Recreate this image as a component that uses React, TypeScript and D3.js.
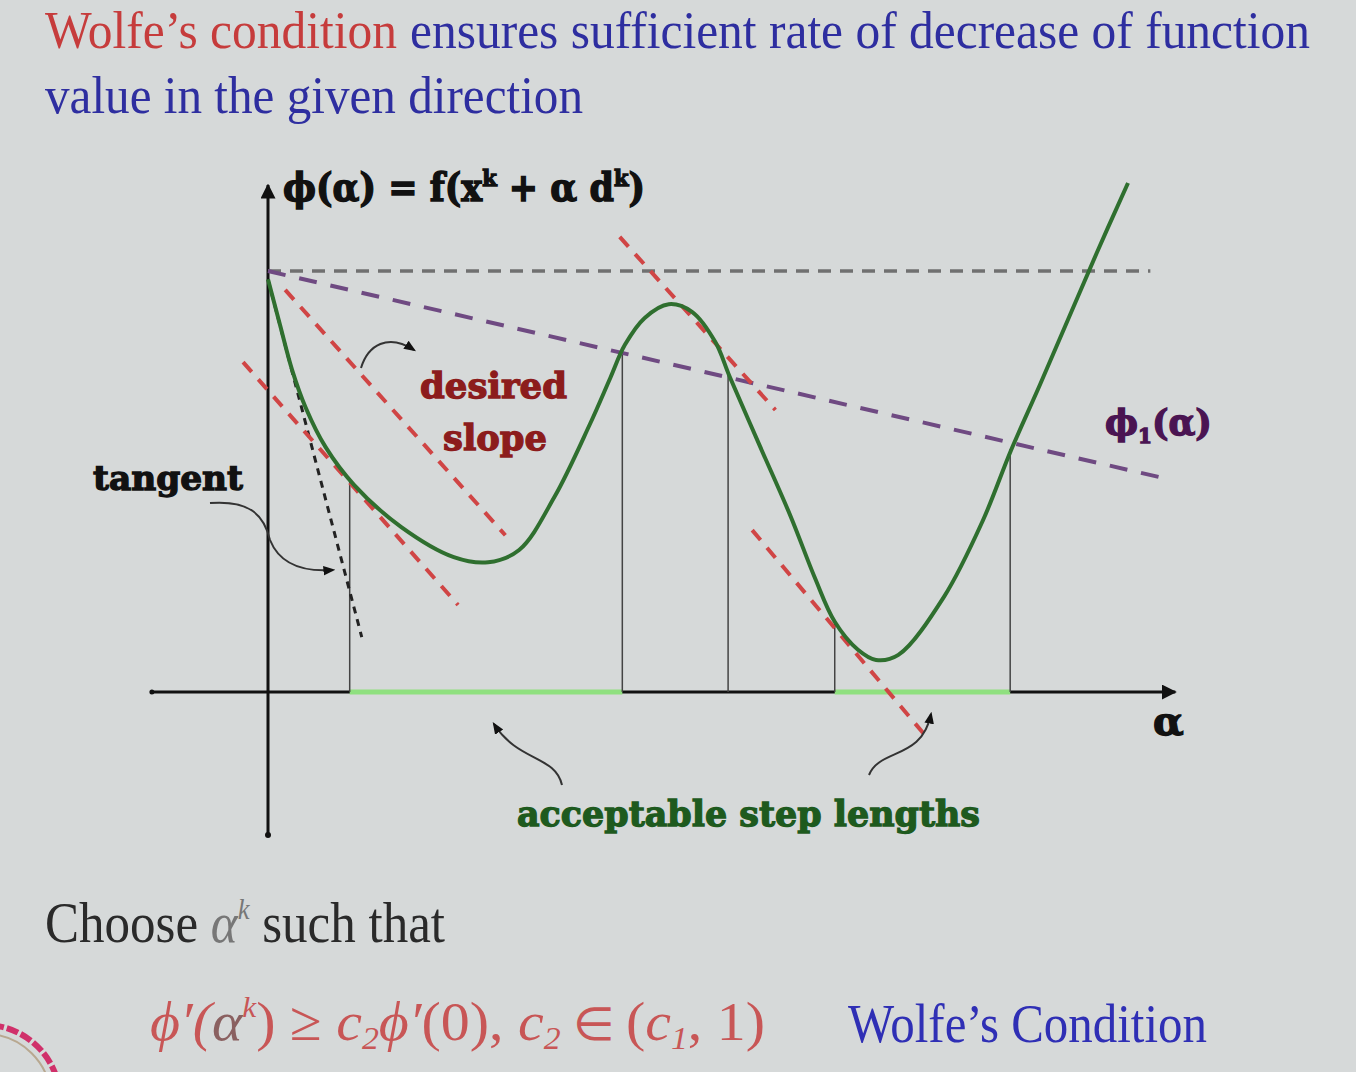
import React from 'react';
import * as d3 from 'd3';

const W = 1356;
const H = 1072;

// phi(alpha) curve samples (data units)
const curveAlpha = [0, 0.14, 0.28, 0.44, 0.67, 1.0, 1.55, 2.16, 2.56, 2.92, 3.33, 3.74, 3.98, 4.15, 4.38, 4.66, 4.93, 5.2, 5.37, 5.72, 6.08, 6.36, 6.59, 6.86, 7.07, 7.33, 7.86, 8.31, 8.64, 8.98, 9.64, 10.0];
const curvePhi = [8.11, 7.21, 6.33, 5.58, 4.81, 4.07, 3.24, 2.65, 2.55, 2.79, 3.83, 5.25, 6.17, 6.82, 7.35, 7.62, 7.47, 6.88, 6.19, 4.83, 3.44, 2.24, 1.38, 0.83, 0.63, 0.73, 1.87, 3.36, 4.75, 6.05, 8.64, 10.0];

// phi(0) level line
const phiZero = 8.27;
const phiZeroEnd = 10.26;

// phi_1(alpha) sufficient-decrease line: [alpha, phi] endpoints
const phi1Start = [0, 8.27];
const phi1End = [10.37, 4.22];

// tangent at 0
const tangentStart = [0, 8.1];
const tangentEnd = [1.09, 1.08];

// red "desired slope" segments: [alpha0, phi0, alpha1, phi1]
const slopeSegments = [
  [-0.29, 6.48, 2.21, 1.71],
  [0.2, 7.9, 2.76, 3.08],
  [4.09, 8.94, 5.9, 5.54],
  [5.63, 3.18, 7.64, -0.85],
];

// vertical drop lines
const dropAlpha = [0.95, 4.12, 5.35, 6.59, 8.63];
const dropPhi = [4.18, 6.72, 6.25, 1.38, 4.77];

// acceptable intervals
const acceptIntervals = [
  [0.95, 4.12],
  [6.59, 8.63],
];

// axes extents
const xAxisRange = [-1.35, 10.55];
const yAxisRange = [-2.81, 9.96];

function Stretch({ x, y, sy, children }: { x: number; y: number; sy: number; children: React.ReactNode }) {
  return <g transform={`translate(${x},${y}) scale(1,${sy})`}>{children}</g>;
}

export default function App() {
  const x = d3.scaleLinear().domain([0, 10]).range([268, 1128]);
  const y = d3.scaleLinear().domain([0, 10]).range([692, 183]);

  const pts: [number, number][] = curveAlpha.map((a, i) => [a, curvePhi[i]]);
  const line = d3
    .line<[number, number]>()
    .x((d) => x(d[0]))
    .y((d) => y(d[1]))
    .curve(d3.curveCatmullRom.alpha(0.5));
  const curvePath = line(pts) || '';

  const serifBold = "'DejaVu Serif', serif";
  const times = "'Liberation Serif', 'Times New Roman', serif";

  const heavy = (color: string) => ({ fill: color, stroke: color, strokeWidth: 1.3, paintOrder: 'stroke' as const });

  return (
    <svg
      width={W}
      height={H}
      style={{ position: 'absolute', left: 0, top: 0, display: 'block' }}
      xmlns="http://www.w3.org/2000/svg"
    >
      <defs>
        <marker id="arrowBlk" viewBox="0 0 10 10" refX="9" refY="5" markerWidth="5" markerHeight="5" orient="auto">
          <path d="M0,0 L10,5 L0,10 z" fill="#111" />
        </marker>
        <marker id="arrowThin" viewBox="0 0 10 10" refX="8" refY="5" markerWidth="6" markerHeight="6" orient="auto">
          <path d="M0,1 L10,5 L0,9 z" fill="#111" />
        </marker>
      </defs>
      <rect x={0} y={0} width={W} height={H} fill="#d6d9d9" />

      {/* Title */}
      <Stretch x={45} y={48} sy={1.15}>
        <text x={0} y={0} fontFamily={times} fontSize={46} fill="#c63c3c" textLength={352} lengthAdjust="spacingAndGlyphs">
          Wolfe’s condition
        </text>
      </Stretch>
      <Stretch x={410} y={48} sy={1.15}>
        <text x={0} y={0} fontFamily={times} fontSize={46} fill="#2e2ea0" textLength={900} lengthAdjust="spacingAndGlyphs">
          ensures sufficient rate of decrease of function
        </text>
      </Stretch>
      <Stretch x={45} y={113} sy={1.15}>
        <text x={0} y={0} fontFamily={times} fontSize={46} fill="#2e2ea0" textLength={538} lengthAdjust="spacingAndGlyphs">
          value in the given direction
        </text>
      </Stretch>

      {/* axes */}
      <line x1={x(xAxisRange[0])} y1={y(0)} x2={x(xAxisRange[1])} y2={y(0)} stroke="#111" strokeWidth={3} markerEnd="url(#arrowBlk)" />
      <line x1={x(0)} y1={y(yAxisRange[0])} x2={x(0)} y2={y(yAxisRange[1])} stroke="#111" strokeWidth={3} markerEnd="url(#arrowBlk)" />
      <circle cx={x(0)} cy={y(yAxisRange[0])} r={3} fill="#111" />
      <circle cx={x(xAxisRange[0])} cy={y(0)} r={2.5} fill="#111" />

      {acceptIntervals.map((iv, i) => (
        <line key={'acc' + i} x1={x(iv[0])} y1={y(0)} x2={x(iv[1])} y2={y(0)} stroke="#8fe07f" strokeWidth={5} />
      ))}

      {/* drop lines */}
      {dropAlpha.map((a, i) => (
        <line key={'drop' + i} x1={x(a)} y1={y(dropPhi[i])} x2={x(a)} y2={y(0)} stroke="#444" strokeWidth={1.5} />
      ))}

      {/* phi(0) horizontal */}
      <line x1={x(0)} y1={y(phiZero)} x2={x(phiZeroEnd)} y2={y(phiZero)} stroke="#707070" strokeWidth={3.5} strokeDasharray="13 9" />

      {/* phi_1 line */}
      <line x1={x(phi1Start[0])} y1={y(phi1Start[1])} x2={x(phi1End[0])} y2={y(phi1End[1])} stroke="#6f4a82" strokeWidth={4} strokeDasharray="18 14" />

      {/* tangent */}
      <line x1={x(tangentStart[0])} y1={y(tangentStart[1])} x2={x(tangentEnd[0])} y2={y(tangentEnd[1])} stroke="#222" strokeWidth={3} strokeDasharray="7 6" />

      {/* red slope segments */}
      {slopeSegments.map((s, i) => (
        <line key={'sl' + i} x1={x(s[0])} y1={y(s[1])} x2={x(s[2])} y2={y(s[3])} stroke="#d04545" strokeWidth={4} strokeDasharray="13 10" />
      ))}

      {/* curve */}
      <path d={curvePath} fill="none" stroke="#2f6f2f" strokeWidth={4} />

      {/* callout arrows */}
      <path d="M210,503 C250,500 264,515 270,540 C280,565 305,572 333,570" fill="none" stroke="#333" strokeWidth={2} markerEnd="url(#arrowThin)" />
      <path d="M361,368 C368,345 388,333 414,350" fill="none" stroke="#333" strokeWidth={2} markerEnd="url(#arrowThin)" />
      <path d="M562,785 C555,755 518,762 494,724" fill="none" stroke="#333" strokeWidth={2} markerEnd="url(#arrowThin)" />
      <path d="M869,775 C880,748 922,760 931,714" fill="none" stroke="#333" strokeWidth={2} markerEnd="url(#arrowThin)" />

      {/* diagram labels */}
      <Stretch x={283} y={201} sy={1.1}>
        <text x={0} y={0} fontFamily={serifBold} fontWeight="bold" fontSize={35} {...heavy('#111')}>
          ϕ(α) = f(x<tspan dy={-14} fontSize={21}>k</tspan><tspan dy={14}> + α d</tspan><tspan dy={-14} fontSize={21}>k</tspan><tspan dy={14}>)</tspan>
        </text>
      </Stretch>
      <text x={93} y={490} fontFamily={serifBold} fontWeight="bold" fontSize={34} {...heavy('#111')} textLength={150} lengthAdjust="spacingAndGlyphs">
        tangent
      </text>
      <text x={420} y={398} fontFamily={serifBold} fontWeight="bold" fontSize={36} {...heavy('#8c1c1c')} textLength={147} lengthAdjust="spacingAndGlyphs">
        desired
      </text>
      <text x={443} y={450} fontFamily={serifBold} fontWeight="bold" fontSize={36} {...heavy('#8c1c1c')} textLength={104} lengthAdjust="spacingAndGlyphs">
        slope
      </text>
      <text x={517} y={826} fontFamily={serifBold} fontWeight="bold" fontSize={36} {...heavy('#1e5a1e')} textLength={463} lengthAdjust="spacingAndGlyphs">
        acceptable step lengths
      </text>
      <text x={1153} y={735} fontFamily={serifBold} fontWeight="bold" fontSize={40} {...heavy('#111')}>
        α
      </text>
      <text x={1105} y={435} fontFamily={serifBold} fontWeight="bold" fontSize={35} {...heavy('#4a1452')}>
        ϕ<tspan dy={8} fontSize={20}>1</tspan><tspan dy={-8}>(α)</tspan>
      </text>

      {/* bottom text */}
      <Stretch x={45} y={942} sy={1.14}>
        <text x={0} y={0} fontFamily={times} fontSize={50} fill="#2a2a2a" textLength={400} lengthAdjust="spacingAndGlyphs">
          Choose <tspan fontStyle="italic" fill="#777">α</tspan><tspan dy={-20} fontSize={26} fontStyle="italic" fill="#777">k</tspan><tspan dy={20}> such that</tspan>
        </text>
      </Stretch>
      <Stretch x={150} y={1040} sy={1.16}>
        <text x={0} y={0} fontFamily={times} fontSize={48} fontStyle="italic" fill="#c85656" textLength={615} lengthAdjust="spacingAndGlyphs">
          ϕ′(<tspan fill="#8a6060">α</tspan><tspan dy={-20} fontSize={26}>k</tspan><tspan dy={20} fontStyle="normal">) ≥ </tspan>c<tspan dy={8} fontSize={28}>2</tspan><tspan dy={-8}>ϕ′</tspan><tspan fontStyle="normal">(0),   </tspan>c<tspan dy={8} fontSize={28}>2</tspan><tspan dy={-8} fontStyle="normal" fontSize={40}> ∈ </tspan><tspan fontStyle="normal">(</tspan>c<tspan dy={8} fontSize={28}>1</tspan><tspan dy={-8} fontStyle="normal">, 1)</tspan>
        </text>
      </Stretch>
      <Stretch x={848} y={1042} sy={1.18}>
        <text x={0} y={0} fontFamily={times} fontSize={46} fill="#2f2fb5" textLength={359} lengthAdjust="spacingAndGlyphs">
          Wolfe’s Condition
        </text>
      </Stretch>

      {/* emblem fragment */}
      <circle cx={-15} cy={1100} r={75} fill="none" stroke="#d0306a" strokeWidth={6} strokeDasharray="12 3" />
      <circle cx={-15} cy={1100} r={66} fill="none" stroke="#b8a890" strokeWidth={2} />
    </svg>
  );
}
